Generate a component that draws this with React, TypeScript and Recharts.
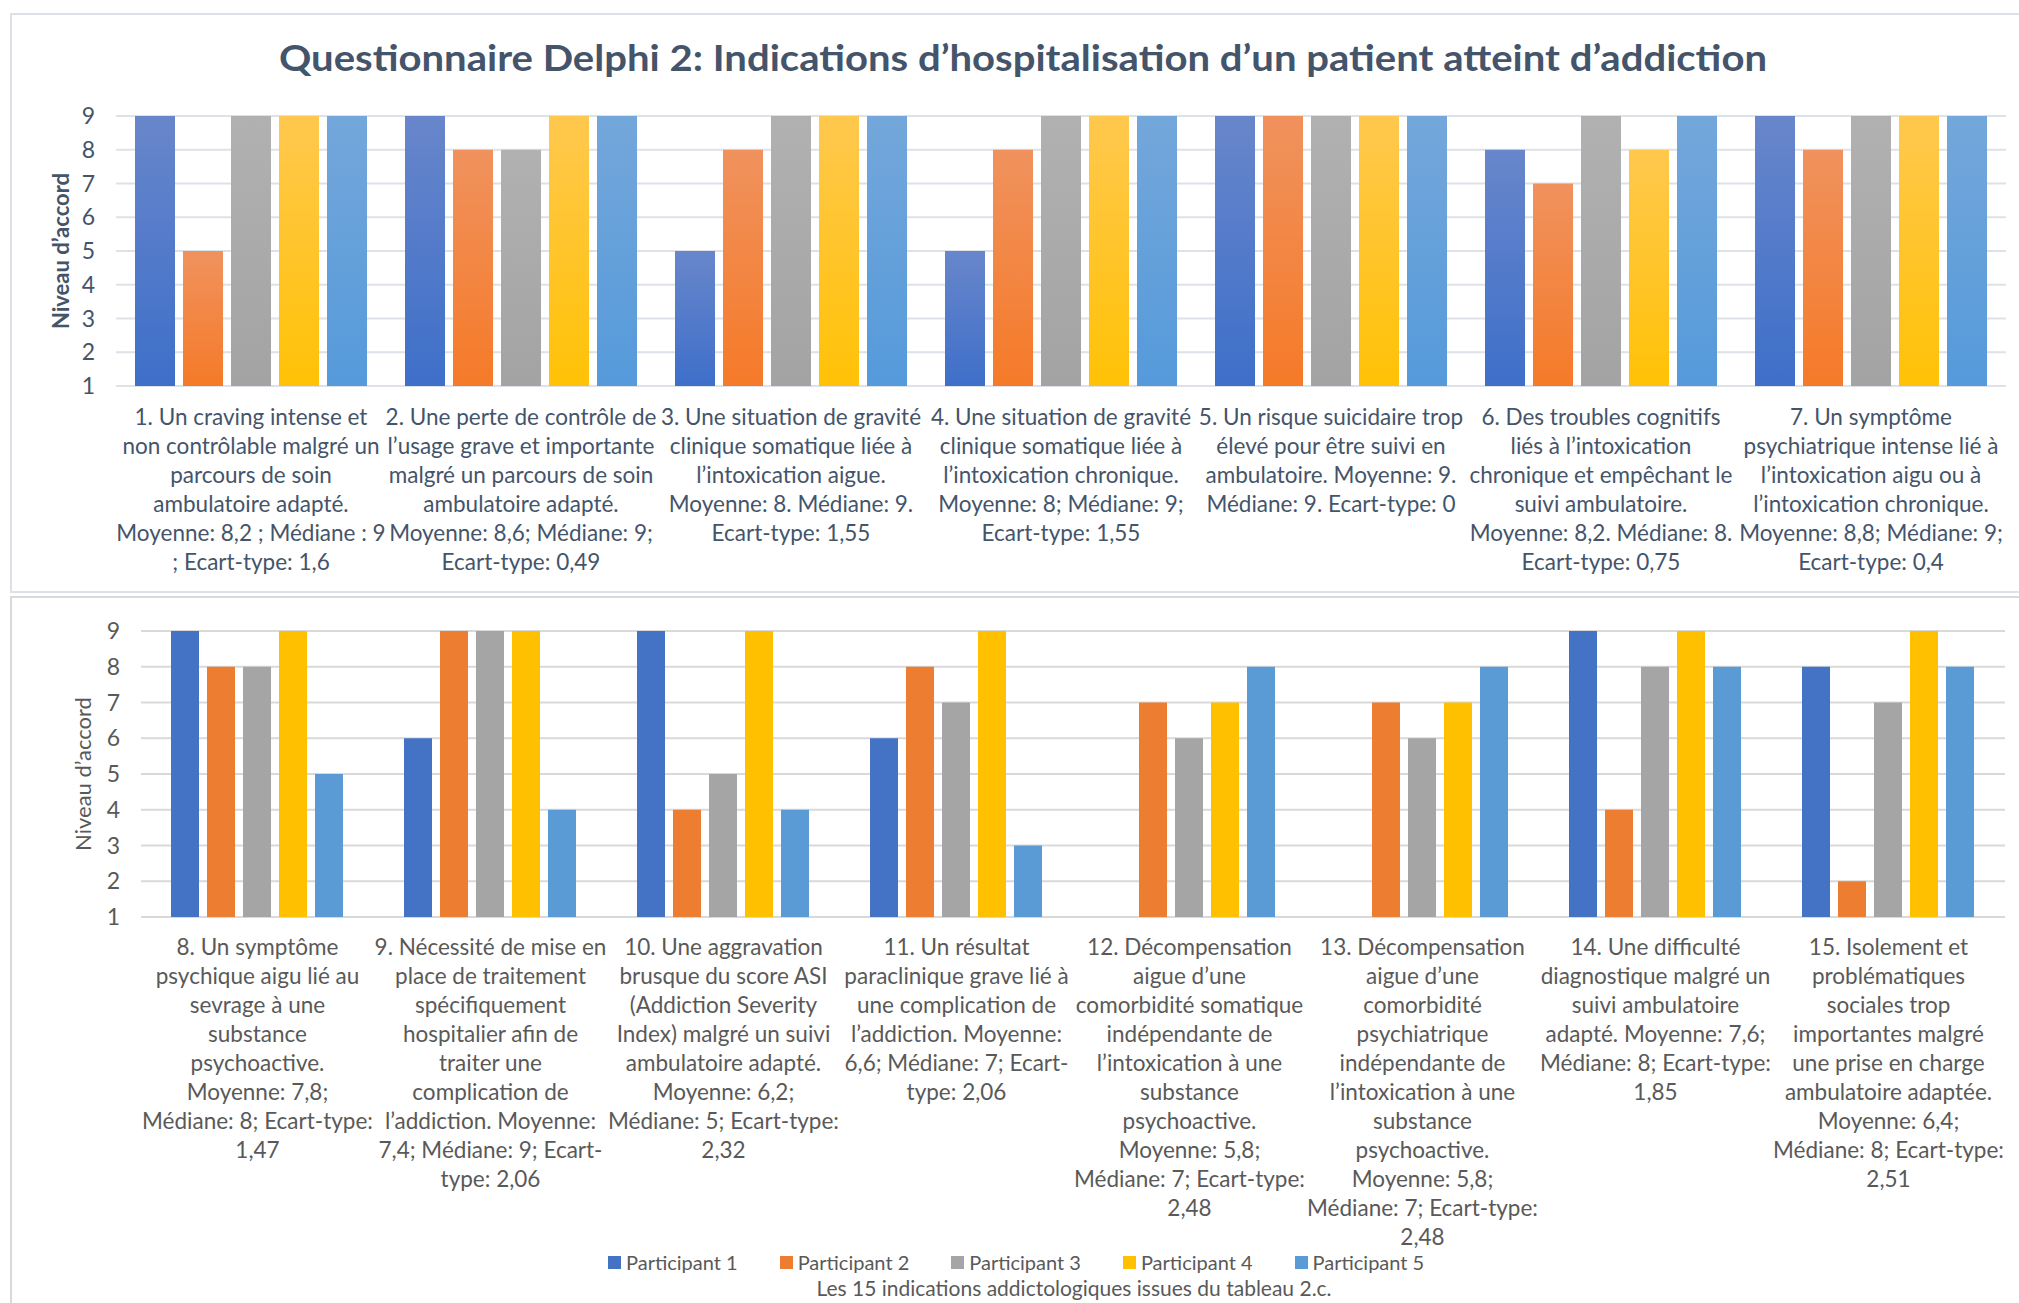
import React from 'react';
import { BarChart, Bar, XAxis, YAxis, CartesianGrid, Label } from 'recharts';

const participants = ['Participant 1', 'Participant 2', 'Participant 3', 'Participant 4', 'Participant 5'];
const seriesKeys = ['p1', 'p2', 'p3', 'p4', 'p5'];

const topCategories = [
  '1. Un craving intense et\nnon contrôlable malgré un\nparcours de soin\nambulatoire adapté.\nMoyenne: 8,2 ; Médiane : 9\n; Ecart-type: 1,6',
  '2. Une perte de contrôle de\nl’usage grave et importante\nmalgré un parcours de soin\nambulatoire adapté.\nMoyenne: 8,6; Médiane: 9;\nEcart-type: 0,49',
  '3. Une situation de gravité\nclinique somatique liée à\nl’intoxication aigue.\nMoyenne: 8. Médiane: 9.\nEcart-type: 1,55',
  '4. Une situation de gravité\nclinique somatique liée à\nl’intoxication chronique.\nMoyenne: 8; Médiane: 9;\nEcart-type: 1,55',
  '5. Un risque suicidaire trop\nélevé pour être suivi en\nambulatoire. Moyenne: 9.\nMédiane: 9. Ecart-type: 0',
  '6. Des troubles cognitifs\nliés à l’intoxication\nchronique et empêchant le\nsuivi ambulatoire.\nMoyenne: 8,2. Médiane: 8.\nEcart-type: 0,75',
  '7. Un symptôme\npsychiatrique intense lié à\nl’intoxication aigu ou à\nl’intoxication chronique.\nMoyenne: 8,8; Médiane: 9;\nEcart-type: 0,4',
];
const topP1 = [9, 9, 5, 5, 9, 8, 9];
const topP2 = [5, 8, 8, 8, 9, 7, 8];
const topP3 = [9, 8, 9, 9, 9, 9, 9];
const topP4 = [9, 9, 9, 9, 9, 8, 9];
const topP5 = [9, 9, 9, 9, 9, 9, 9];

const bottomCategories = [
  '8. Un symptôme\npsychique aigu lié au\nsevrage à une\nsubstance\npsychoactive.\nMoyenne: 7,8;\nMédiane: 8; Ecart-type:\n1,47',
  '9. Nécessité de mise en\nplace de traitement\nspécifiquement\nhospitalier afin de\ntraiter une\ncomplication de\nl’addiction. Moyenne:\n7,4; Médiane: 9; Ecart-\ntype: 2,06',
  '10. Une aggravation\nbrusque du score ASI\n(Addiction Severity\nIndex) malgré un suivi\nambulatoire adapté.\nMoyenne: 6,2;\nMédiane: 5; Ecart-type:\n2,32',
  '11. Un résultat\nparaclinique grave lié à\nune complication de\nl’addiction. Moyenne:\n6,6; Médiane: 7; Ecart-\ntype: 2,06',
  '12. Décompensation\naigue d’une\ncomorbidité somatique\nindépendante de\nl’intoxication à une\nsubstance\npsychoactive.\nMoyenne: 5,8;\nMédiane: 7; Ecart-type:\n2,48',
  '13. Décompensation\naigue d’une\ncomorbidité\npsychiatrique\nindépendante de\nl’intoxication à une\nsubstance\npsychoactive.\nMoyenne: 5,8;\nMédiane: 7; Ecart-type:\n2,48',
  '14. Une difficulté\ndiagnostique malgré un\nsuivi ambulatoire\nadapté. Moyenne: 7,6;\nMédiane: 8; Ecart-type:\n1,85',
  '15. Isolement et\nproblématiques\nsociales trop\nimportantes malgré\nune prise en charge\nambulatoire adaptée.\nMoyenne: 6,4;\nMédiane: 8; Ecart-type:\n2,51',
];
const botP1 = [9, 6, 9, 6, 1, 1, 9, 8];
const botP2 = [8, 9, 4, 8, 7, 7, 4, 2];
const botP3 = [8, 9, 5, 7, 6, 6, 8, 7];
const botP4 = [9, 9, 9, 9, 7, 7, 9, 9];
const botP5 = [5, 4, 4, 3, 8, 8, 8, 8];

const yTicks = [1, 2, 3, 4, 5, 6, 7, 8, 9];

const title = 'Questionnaire Delphi 2: Indications d’hospitalisation d’un patient atteint d’addiction';
const yLabel = 'Niveau d’accord';
const caption = 'Les 15 indications addictologiques issues du tableau 2.c.';

const flatColors = ['#4472C4', '#ED7D31', '#A5A5A5', '#FFC000', '#5B9BD5'];
const gradTop = ['#6886CB', '#F0925E', '#B1B1B1', '#FFC84E', '#74A7DA'];
const gradBottom = ['#3E6FC9', '#F57A28', '#A3A3A3', '#FFC206', '#559ADB'];

const FONT = 'Lato, "Noto Sans", sans-serif';
const SLATE = '#44546A';
const GRAY = '#595959';

const topData = topCategories.map((name, i) => ({
  name, p1: topP1[i], p2: topP2[i], p3: topP3[i], p4: topP4[i], p5: topP5[i],
}));
const bottomData = bottomCategories.map((name, i) => ({
  name, p1: botP1[i], p2: botP2[i], p3: botP3[i], p4: botP4[i], p5: botP5[i],
}));

function MultiLineTick(props: any) {
  const { x, y, payload, color, firstDy } = props;
  const lines = String(payload.value).split('\n');
  return (
    <text x={x} y={y} textAnchor="middle" fill={color} fontSize={22.5} fontFamily={FONT}>
      {lines.map((l, i) => (
        <tspan key={i} x={x} dy={i === 0 ? firstDy : 29}>{l}</tspan>
      ))}
    </text>
  );
}

function yAxisLabel(color: string, weight: number, dx: number) {
  return (props: any) => {
    const vb = props.viewBox || {};
    const cx = vb.x + dx;
    const cy = vb.y + vb.height / 2;
    return (
      <text
        x={cx}
        y={cy}
        transform={`rotate(-90 ${cx} ${cy})`}
        textAnchor="middle"
        dominantBaseline="central"
        fill={color}
        fontSize={22}
        fontWeight={weight}
        fontFamily={FONT}
      >
        {yLabel}
      </text>
    );
  };
}

export default function App() {
  return (
    <div style={{ position: 'absolute', left: 0, top: 0, width: 2019, height: 1303, background: '#fff', overflow: 'hidden', fontFamily: FONT }}>
      {/* frames */}
      <div style={{ position: 'absolute', left: 10, top: 13, width: 2009, height: 576, borderTop: '2px solid #DCE1E8', borderLeft: '2px solid #DCE1E8', borderBottom: '2px solid #DCE1E8' }} />
      <div style={{ position: 'absolute', left: 10, top: 596, width: 2009, height: 707, borderTop: '2px solid #D9D9D9', borderLeft: '2px solid #D9D9D9' }} />

      {/* title */}
      <svg style={{ position: 'absolute', left: 0, top: 0 }} width={2019} height={100}>
        <text x={279} y={71} textLength={1488} lengthAdjust="spacingAndGlyphs" fill={SLATE} fontSize={36} fontWeight={700} fontFamily={FONT}>
          {title}
        </text>
      </svg>

      {/* top chart */}
      <div style={{ position: 'absolute', left: 0, top: 0 }}>
        <BarChart width={2019} height={592} data={topData} margin={{ top: 116, right: 13, left: 56, bottom: 0 }} barCategoryGap={19} barGap={8}>
          <defs>
            {seriesKeys.map((k, i) => (
              <linearGradient key={k} id={`grad-${k}`} x1="0" y1="0" x2="0" y2="1">
                <stop offset="0%" stopColor={gradTop[i]} />
                <stop offset="100%" stopColor={gradBottom[i]} />
              </linearGradient>
            ))}
          </defs>
          <CartesianGrid vertical={false} stroke="#DDE2E9" strokeWidth={2} />
          <XAxis
            dataKey="name"
            interval={0}
            height={206}
            axisLine={false}
            tickLine={false}
            tick={(p: any) => <MultiLineTick {...p} color={SLATE} firstDy={31} />}
          />
          <YAxis
            width={60}
            domain={[1, 9]}
            ticks={yTicks}
            axisLine={false}
            tickLine={false}
            tickMargin={15}
            tick={{ fill: SLATE, fontSize: 23, fontFamily: FONT }}
          >
            <Label content={yAxisLabel(SLATE, 700, 4)} />
          </YAxis>
          {seriesKeys.map((k, i) => (
            <Bar key={k} dataKey={k} name={participants[i]} fill={`url(#grad-${k})`} isAnimationActive={false} />
          ))}
        </BarChart>
      </div>

      {/* bottom chart */}
      <div style={{ position: 'absolute', left: 0, top: 597 }}>
        <BarChart width={2019} height={706} data={bottomData} margin={{ top: 34, right: 14, left: 70, bottom: 0 }} barCategoryGap={30} barGap={8}>
          <CartesianGrid vertical={false} stroke="#D9D9D9" strokeWidth={2} />
          <XAxis
            dataKey="name"
            interval={0}
            height={386}
            axisLine={false}
            tickLine={false}
            tick={(p: any) => <MultiLineTick {...p} color={GRAY} firstDy={30} />}
          />
          <YAxis
            width={71}
            domain={[1, 9]}
            ticks={yTicks}
            axisLine={false}
            tickLine={false}
            tickMargin={15}
            tick={{ fill: GRAY, fontSize: 23, fontFamily: FONT }}
          >
            <Label content={yAxisLabel(GRAY, 400, 12)} />
          </YAxis>
          {seriesKeys.map((k, i) => (
            <Bar key={k} dataKey={k} name={participants[i]} fill={flatColors[i]} isAnimationActive={false} />
          ))}
        </BarChart>
      </div>

      {/* legend */}
      <div style={{ position: 'absolute', left: 608, top: 1252, height: 20, lineHeight: '20px', display: 'flex', gap: 42, alignItems: 'center', color: GRAY, fontSize: 20 }}>
        {participants.map((p, i) => (
          <div key={p} style={{ display: 'flex', alignItems: 'center', gap: 5, height: 20 }}>
            <span style={{ display: 'inline-block', width: 13, height: 13, background: flatColors[i] }} />
            <span>{p}</span>
          </div>
        ))}
      </div>
      <div style={{ position: 'absolute', left: 0, width: 2148, top: 1278, height: 20, lineHeight: '20px', textAlign: 'center', color: GRAY, fontSize: 21 }}>
        {caption}
      </div>
    </div>
  );
}
